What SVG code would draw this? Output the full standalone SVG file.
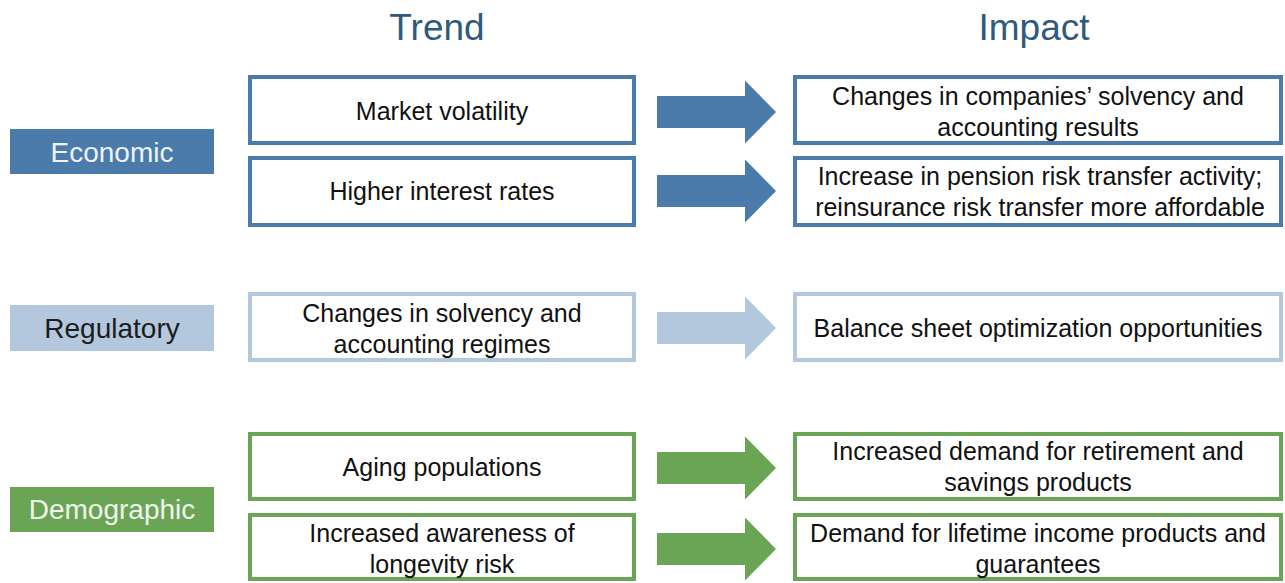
<svg xmlns="http://www.w3.org/2000/svg" width="1285" height="583" viewBox="0 0 1285 583">
<style>
text{font-family:"Liberation Sans",Arial,sans-serif;text-anchor:middle}
.title{font-size:37px;fill:#2f5a7c}
.lab{font-size:28px}
.t{font-size:25px;fill:#111}
.box{fill:#fff;stroke-width:4}
.eco{stroke:#4a7bab}
.reg{stroke:#b3c7dd}
.dem{stroke:#6aa556}
</style>
<defs>
<path id="arrow" d="M0,-16 H88 V-31.5 L119,0 L88,31.5 V16 H0 Z"/>
</defs>
<rect width="1285" height="583" fill="#fff"/>
<g id="titles">
<text class="title" x="437" y="40">Trend</text>
<text class="title" x="1034" y="40">Impact</text>
</g>
<g id="economic">
<rect x="10" y="129" width="204" height="45" fill="#4a7bab"/>
<text class="lab" x="112" y="162" fill="#eef3f8">Economic</text>
</g>
<g id="regulatory">
<rect x="10" y="305" width="204" height="46" fill="#b3c7dd"/>
<text class="lab" x="112" y="338" fill="#1c1c1c">Regulatory</text>
</g>
<g id="demographic">
<rect x="10" y="487" width="204" height="45" fill="#6aa556"/>
<text class="lab" x="112" y="519" fill="#f0f6ec">Demographic</text>
</g>
<g id="trend-market">
<rect class="box eco" x="250" y="77" width="384" height="66"/>
<text class="t" x="442" y="120">Market volatility</text>
</g>
<g id="trend-rates">
<rect class="box eco" x="250" y="158" width="384" height="67"/>
<text class="t" x="442" y="200">Higher interest rates</text>
</g>
<g id="trend-solvency">
<rect class="box reg" x="250" y="294" width="384" height="66"/>
<text class="t" x="442" y="322">Changes in solvency and</text>
<text class="t" x="442" y="353">accounting regimes</text>
</g>
<g id="trend-aging">
<rect class="box dem" x="250" y="434" width="384" height="65"/>
<text class="t" x="442" y="476">Aging populations</text>
</g>
<g id="trend-longevity">
<rect class="box dem" x="250" y="515" width="384" height="64"/>
<text class="t" x="442" y="542">Increased awareness of</text>
<text class="t" x="442" y="573">longevity risk</text>
</g>
<g id="impact-solvency">
<rect class="box eco" x="795" y="77" width="486" height="66"/>
<text class="t" x="1038" y="105">Changes in companies’ solvency and</text>
<text class="t" x="1038" y="136">accounting results</text>
</g>
<g id="impact-pension">
<rect class="box eco" x="795" y="158" width="486" height="67"/>
<text class="t" x="1040" y="185">Increase in pension risk transfer activity;</text>
<text class="t" x="1040" y="216">reinsurance risk transfer more affordable</text>
</g>
<g id="impact-balance">
<rect class="box reg" x="795" y="294" width="486" height="66"/>
<text class="t" x="1038" y="337">Balance sheet optimization opportunities</text>
</g>
<g id="impact-retirement">
<rect class="box dem" x="795" y="434" width="486" height="65"/>
<text class="t" x="1038" y="460">Increased demand for retirement and</text>
<text class="t" x="1038" y="491">savings products</text>
</g>
<g id="impact-lifetime">
<rect class="box dem" x="795" y="515" width="486" height="64"/>
<text class="t" x="1038" y="542">Demand for lifetime income products and</text>
<text class="t" x="1038" y="573">guarantees</text>
</g>
<g id="connectors">
<use href="#arrow" x="657" y="112" fill="#4a7bab"/>
<use href="#arrow" x="657" y="191" fill="#4a7bab"/>
<use href="#arrow" x="657" y="328" fill="#b3c7dd"/>
<use href="#arrow" x="657" y="468" fill="#6aa556"/>
<use href="#arrow" x="657" y="549" fill="#6aa556"/>
</g>
</svg>
